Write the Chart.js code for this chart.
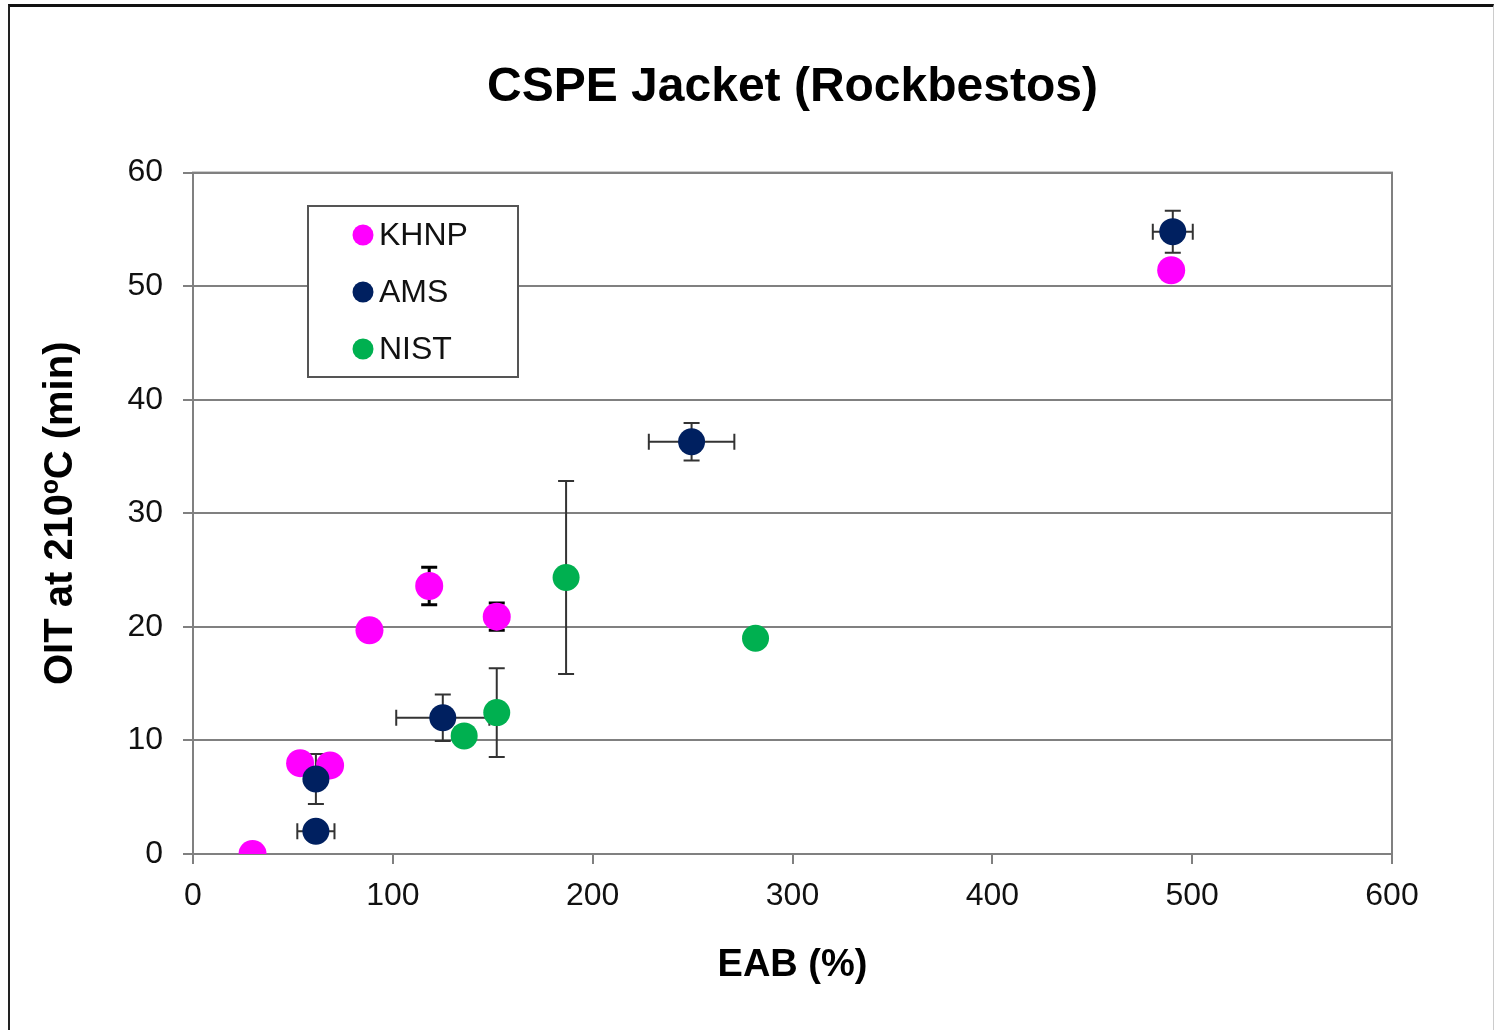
<!DOCTYPE html>
<html>
<head>
<meta charset="utf-8">
<title>CSPE Jacket (Rockbestos)</title>
<script src="https://cdn.jsdelivr.net/npm/chart.js@4/dist/chart.umd.min.js"></script>
<style>
  html, body { margin: 0; padding: 0; background: #fff; overflow: hidden; }
  #wrap { position: absolute; left: 0; top: 0; width: 1494px; height: 1030px; }
  #frame { position: absolute; left: 8px; top: 4px; width: 1483px; height: 1040px;
           border-top: 3px solid #111; border-left: 2px solid #222; border-right: 1px solid #ccc;
           pointer-events: none; }
</style>
</head>
<body>
<div id="wrap"><canvas id="chart" width="1494" height="1030"></canvas></div>
<div id="frame"></div>
<script>
// DATA
const chart_title = 'CSPE Jacket (Rockbestos)';
const x_title = 'EAB (%)';
const y_title = 'OIT at 210ºC (min)';
const x_ticks = [0, 100, 200, 300, 400, 500, 600];
const y_ticks = [0, 10, 20, 30, 40, 50, 60];

const khnp_x    = [29.8, 53.6, 68.6, 88.3, 118.2, 152, 489.5];
const khnp_y    = [0, 8.0, 7.8, 19.7, 23.6, 20.9, 51.4];
const khnp_xerr = [0, 0, 0, 0, 0, 0, 0];
const khnp_yerr = [0, 0, 0, 0, 1.65, 1.2, 0];

const ams_x    = [61.5, 61.5, 125, 249.5, 490.3];
const ams_y    = [2.0, 6.6, 12.0, 36.3, 54.8];
const ams_xerr = [9.3, 0, 23.3, 21.4, 10];
const ams_yerr = [0, 2.2, 2.05, 1.65, 1.85];

const nist_x    = [135.7, 152, 186.7, 281.5];
const nist_y    = [10.4, 12.45, 24.35, 19.0];
const nist_xerr = [0, 0, 0, 0];
const nist_yerr = [0, 3.9, 8.5, 0];

const toPoints = (xs, ys, xe, ye) => xs.map((x, i) => ({ x: x, y: ys[i], xerr: xe[i], yerr: ye[i] }));

const font_family = '"Liberation Sans", Arial, sans-serif';

// error bars drawn under the dots, through the chart scales
const errorBars = {
  id: 'errorBars',
  beforeDatasetsDraw(chart) {
    const ctx = chart.ctx;
    const xs = chart.scales.x, ys = chart.scales.y;
    ctx.save();
    chart.data.datasets.forEach(ds => {
      ctx.strokeStyle = ds.errColor;
      ctx.lineWidth = ds.errWidth;
      const cap = 8;
      ds.data.forEach(p => {
        const px = xs.getPixelForValue(p.x), py = ys.getPixelForValue(p.y);
        if (p.yerr) {
          const t = ys.getPixelForValue(p.y + p.yerr), b = ys.getPixelForValue(p.y - p.yerr);
          ctx.beginPath();
          ctx.moveTo(px, t); ctx.lineTo(px, b);
          ctx.moveTo(px - cap, t); ctx.lineTo(px + cap, t);
          ctx.moveTo(px - cap, b); ctx.lineTo(px + cap, b);
          ctx.stroke();
        }
        if (p.xerr) {
          const l = xs.getPixelForValue(p.x - p.xerr), r = xs.getPixelForValue(p.x + p.xerr);
          ctx.beginPath();
          ctx.moveTo(l, py); ctx.lineTo(r, py);
          ctx.moveTo(l, py - cap); ctx.lineTo(l, py + cap);
          ctx.moveTo(r, py - cap); ctx.lineTo(r, py + cap);
          ctx.stroke();
        }
      });
    });
    ctx.restore();
  }
};

// plot area border (right side) + boxed legend inside the plot
const plotBox = {
  id: 'plotBox',
  beforeDatasetsDraw(chart) {
    const a = chart.chartArea, ctx = chart.ctx;
    ctx.save();
    ctx.strokeStyle = '#808080';
    ctx.lineWidth = 2;
    ctx.strokeRect(a.left, a.top, a.right - a.left, a.bottom - a.top);
    ctx.restore();
  },
  afterDatasetsDraw(chart) {
    const ctx = chart.ctx;
    const bx = 308, by = 206, bw = 210, bh = 171;
    ctx.save();
    ctx.fillStyle = '#fff';
    ctx.fillRect(bx, by, bw, bh);
    ctx.strokeStyle = '#555';
    ctx.lineWidth = 2;
    ctx.strokeRect(bx, by, bw, bh);
    ctx.font = '32px ' + font_family;
    ctx.textBaseline = 'middle';
    ctx.textAlign = 'left';
    const rows = [235, 292, 349];
    chart.data.datasets.forEach((ds, i) => {
      ctx.fillStyle = ds.backgroundColor;
      ctx.beginPath();
      ctx.arc(bx + 55, rows[i], 10.5, 0, Math.PI * 2);
      ctx.fill();
      ctx.fillStyle = '#111';
      ctx.fillText(ds.label, bx + 71, rows[i] + 1);
    });
    ctx.restore();
  }
};

const config = {
  type: 'scatter',
  data: {
    datasets: [{
      label: 'KHNP',
      data: toPoints(khnp_x, khnp_y, khnp_xerr, khnp_yerr),
      backgroundColor: '#FF00FF',
      borderWidth: 0,
      pointRadius: 14,
      order: 3,
      errColor: '#000',
      errWidth: 3
    },
    {
      label: 'AMS',
      data: toPoints(ams_x, ams_y, ams_xerr, ams_yerr),
      backgroundColor: '#002060',
      borderWidth: 0,
      pointRadius: 13.5,
      order: 2,
      errColor: '#333',
      errWidth: 2
    },
    {
      label: 'NIST',
      data: toPoints(nist_x, nist_y, nist_xerr, nist_yerr),
      backgroundColor: '#00B050',
      borderWidth: 0,
      pointRadius: 13.5,
      order: 1,
      errColor: '#333',
      errWidth: 2
    }]
  },
  options: {
    responsive: false,
    animation: false,
    layout: { padding: { left: 0, right: 102, top: 0, bottom: 0 } },
    plugins: {
      legend: { display: false },
      tooltip: { enabled: false },
      title: {
        display: true,
        fullSize: false,
        text: chart_title,
        color: '#000',
        font: { family: font_family, size: 48, weight: 'bold' },
        padding: { top: 59, bottom: 56 }
      }
    },
    scales: {
      x: {
        type: 'linear',
        min: 0, max: 600,
        afterBuildTicks: s => { s.ticks = x_ticks.map(v => ({ value: v })); },
        afterFit: s => { s.height = 176; },
        grid: { drawOnChartArea: false, drawTicks: true, tickLength: 10, color: '#808080', lineWidth: 2 },
        border: { display: true, color: '#808080', width: 2 },
        ticks: { color: '#111', padding: 13, font: { family: font_family, size: 32 }, maxRotation: 0 },
        title: { display: true, text: x_title, color: '#000',
                 font: { family: font_family, size: 38, weight: 'bold' }, padding: { top: 0, bottom: 42 } }
      },
      y: {
        type: 'linear',
        min: 0, max: 60,
        afterBuildTicks: s => { s.ticks = y_ticks.map(v => ({ value: v })); },
        afterFit: s => { s.width = 193; },
        grid: { drawTicks: true, tickLength: 10, color: '#808080', lineWidth: 2 },
        border: { display: true, color: '#808080', width: 2 },
        ticks: { color: '#111', padding: 20, font: { family: font_family, size: 32 } },
        title: { display: true, text: y_title, color: '#000',
                 font: { family: font_family, size: 40, weight: 'bold' }, padding: { top: 37, bottom: 0 } }
      }
    }
  },
  plugins: [errorBars, plotBox]
};

const myChart = new Chart(document.getElementById('chart'), config);
</script>
</body>
</html>
